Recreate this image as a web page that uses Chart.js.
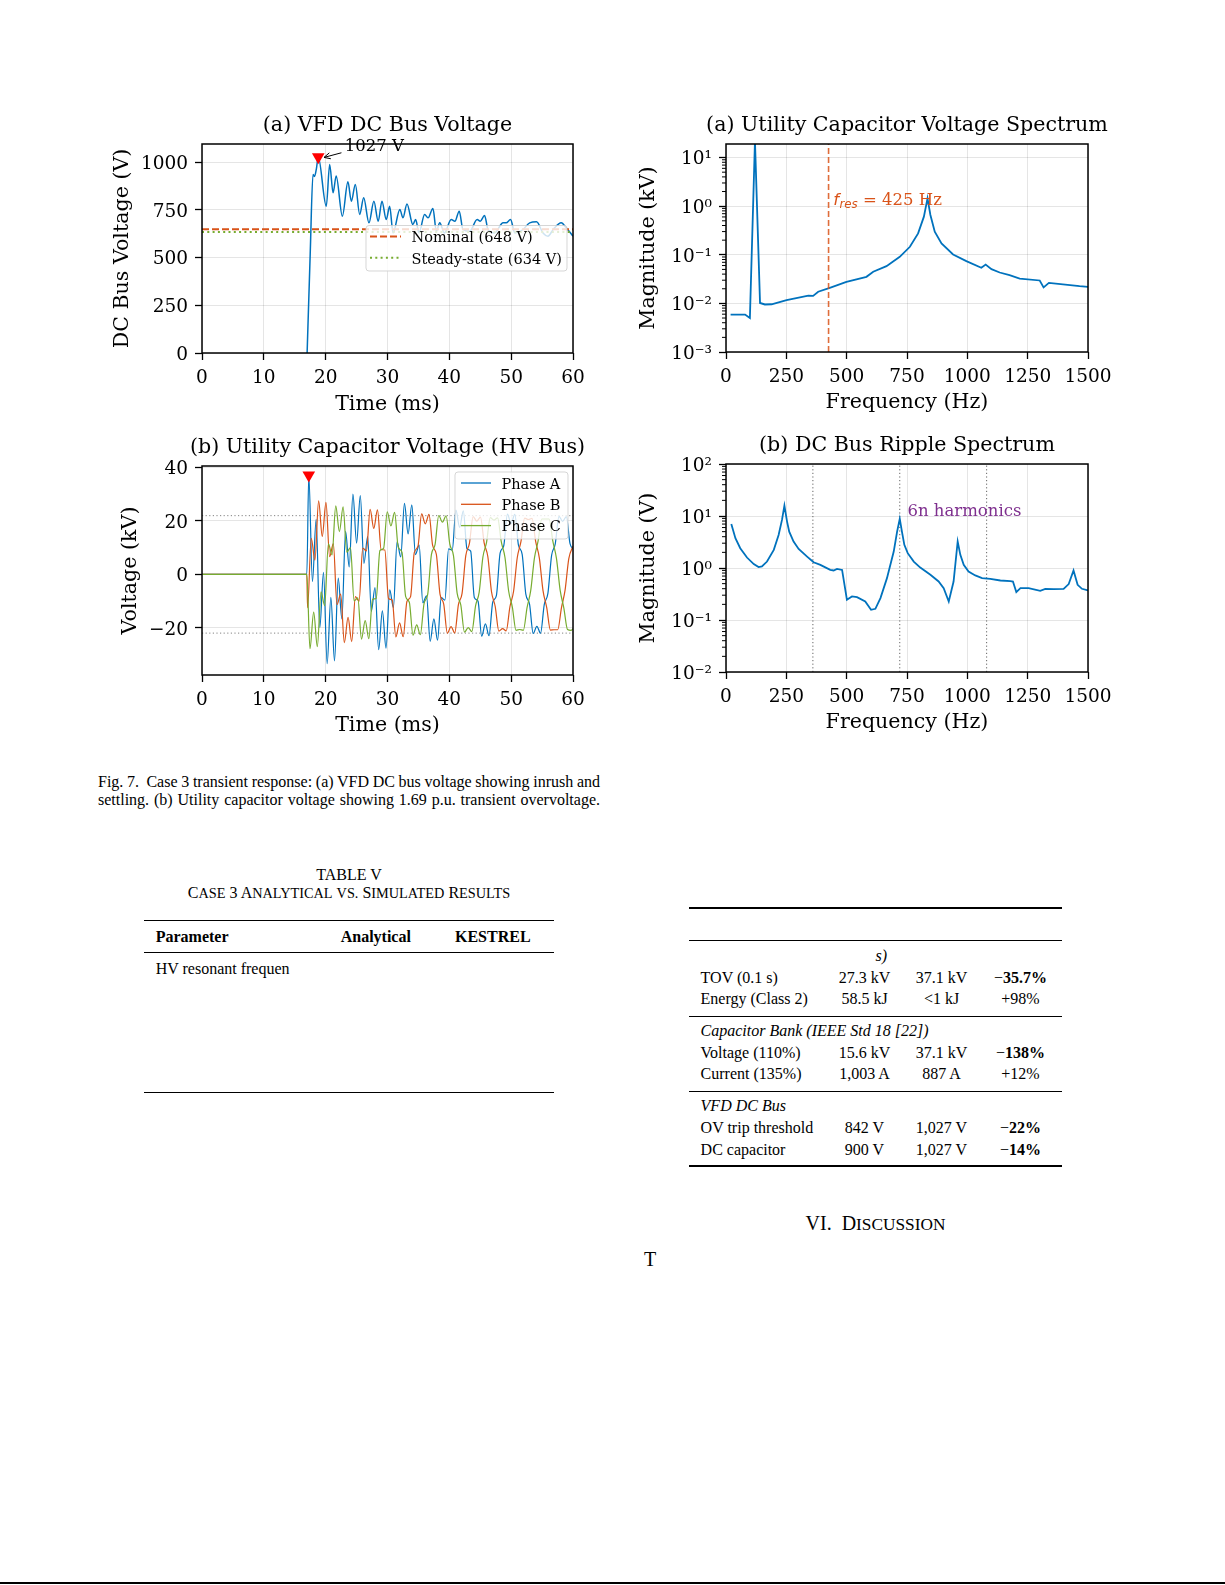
<!DOCTYPE html>
<html>
<head>
<meta charset="utf-8">
<script src="https://cdn.jsdelivr.net/npm/chart.js@4.4.1/dist/chart.umd.min.js"></script>
<style>
  body { margin: 0; width: 1225px; height: 1585px; background: #fff; position: relative; overflow: hidden; font-family: 'Liberation Serif', serif; color: #000; }
  canvas { position: absolute; }
  .txt { position: absolute; white-space: nowrap; }
  .fitline { display: inline-block; }
  .rule { position: absolute; background: #000; }
</style>
</head>
<body>
<canvas id="dcBus" width="500" height="320" style="left:100px;top:100px"></canvas>
<canvas id="capSpec" width="510" height="320" style="left:610px;top:100px"></canvas>
<canvas id="hvBus" width="500" height="320" style="left:100px;top:420px"></canvas>
<canvas id="ripSpec" width="510" height="320" style="left:610px;top:420px"></canvas>

<script>
// ---- (a) VFD DC bus voltage
const dcTime = [17.0, 17.5, 17.95, 18.2, 18.5, 18.8, 20.1, 20.65, 21.2, 21.7, 22.7, 23.6, 24.15, 24.8, 25.5, 26.15, 27.0, 27.8, 28.5, 29.1, 29.8, 30.35, 30.9, 32.0, 32.5, 33.15, 34.1, 34.55, 35.1, 36.0, 36.55, 37.35, 37.9, 38.45, 39.2, 40.3, 40.9, 41.6, 42.2, 43.3, 44.5, 45.0, 45.7, 46.25, 47.3, 48.7, 49.2, 49.9, 50.6, 51.9, 53.0, 54.1, 55.15, 55.95, 56.8, 58.1, 58.9, 60.0];
const dcVolt = [0, 520, 935, 925, 965, 1027, 769, 988, 839, 927, 717, 897, 795, 883, 726, 813, 682, 795, 690, 795, 699, 769, 629, 752, 708, 781, 673, 699, 629, 726, 708, 757, 638, 682, 629, 699, 690, 743, 647, 638, 699, 690, 720, 647, 629, 682, 682, 699, 629, 647, 682, 687, 629, 612, 647, 682, 656, 612];
const dcPeak = [18.8, 1027];
const nominalV = 648;
const steadyV = 634;
const timeTicks = [0, 10, 20, 30, 40, 50, 60];
const dcTicks = [0, 250, 500, 750, 1000];

// ---- (b) utility capacitor voltage, three phases (kV)
const phaseNames = ['Phase A', 'Phase B', 'Phase C'];
const phaseATime = [0, 16.95, 17.27, 17.86, 18.46, 19.05, 19.65, 20.24, 20.84, 21.43, 22.03, 22.62, 23.22, 23.81, 24.41, 25.0, 25.6, 26.19, 26.79, 27.38, 27.98, 28.57, 29.17, 29.76, 30.36, 30.95, 31.55, 32.14, 32.74, 33.33, 33.93, 34.52, 35.12, 35.71, 36.31, 36.9, 37.5, 38.09, 38.69, 39.28, 39.88, 40.47, 41.07, 41.66, 42.26, 42.85, 43.45, 44.04, 44.64, 45.23, 45.83, 46.42, 47.02, 47.61, 48.21, 48.8, 49.4, 49.99, 50.59, 51.18, 51.78, 52.37, 52.97, 53.56, 54.16, 54.75, 55.35, 55.94, 56.54, 57.13, 57.73, 58.32, 58.92, 59.51, 60.0];
const phaseAVolt = [0, 0, 37.1, -2.7, 20.6, -19.9, 0.8, -33.4, -8.6, -32.3, -1.4, -16.6, 16.1, 2.8, 30.0, 11.7, 29.4, 4.1, 14.1, -13.8, -4.9, -28.1, -13.6, -27.6, -5.8, -12.4, 12.2, 6.5, 26.5, 15.1, 26.0, 7.4, 10.9, -10.6, -8.0, -25.0, -16.6, -24.6, -8.7, -9.6, 9.5, 9.1, 24.0, 17.6, 23.7, 9.6, 8.7, -8.6, -10.0, -23.1, -18.5, -22.9, -10.4, -7.9, 7.9, 10.7, 22.5, 19.0, 22.4, 10.9, 7.5, -7.4, -11.1, -22.1, -19.4, -22.0, -11.3, -7.1, 7.1, 11.4, 21.7, 19.8, 21.6, 11.6, 9.5];
const phaseBTime = [0, 16.95, 17.07, 17.67, 18.26, 18.86, 19.45, 20.05, 20.64, 21.24, 21.83, 22.43, 23.02, 23.62, 24.21, 24.81, 25.4, 26.0, 26.59, 27.19, 27.78, 28.38, 28.97, 29.57, 30.16, 30.76, 31.35, 31.95, 32.54, 33.14, 33.73, 34.33, 34.92, 35.52, 36.11, 36.71, 37.3, 37.9, 38.49, 39.09, 39.68, 40.28, 40.87, 41.47, 42.06, 42.66, 43.25, 43.85, 44.44, 45.04, 45.63, 46.23, 46.82, 47.42, 48.01, 48.61, 49.2, 49.8, 50.39, 50.99, 51.58, 52.18, 52.77, 53.37, 53.96, 54.56, 55.15, 55.75, 56.34, 56.94, 57.53, 58.13, 58.72, 59.32, 60.0];
const phaseBVolt = [0, 0, -12.5, 13.5, 5.3, 27.5, 14.2, 26.9, 6.6, 11.5, -11.3, -7.4, -25.5, -16.1, -25.1, -8.3, -10.0, 9.8, 8.8, 24.3, 17.2, 24.1, 9.3, 9.1, -9.0, -9.6, -23.4, -18.1, -23.3, -10.1, -8.3, 8.1, 10.4, 22.6, 18.9, 22.4, 10.8, 7.5, -7.4, -11.1, -22.0, -19.5, -21.9, -11.3, -7.1, 7.0, 11.6, 21.6, 19.9, 21.4, 11.8, 6.6, -6.5, -12.0, -21.2, -20.3, -21.1, -12.1, -6.3, 6.3, 12.2, 21.0, 20.5, 20.9, 12.3, 6.1, -6.1, -12.4, -20.8, -20.7, -20.7, -12.5, -5.9, 5.9, 10.5];
const phaseCTime = [0, 16.95, 17.46, 18.06, 18.65, 19.25, 19.84, 20.44, 21.03, 21.63, 22.22, 22.82, 23.41, 24.01, 24.6, 25.2, 25.79, 26.39, 26.98, 27.58, 28.17, 28.77, 29.36, 29.96, 30.55, 31.15, 31.74, 32.34, 32.93, 33.53, 34.12, 34.72, 35.31, 35.91, 36.5, 37.1, 37.69, 38.29, 38.88, 39.48, 40.07, 40.67, 41.26, 41.86, 42.45, 43.05, 43.64, 44.24, 44.83, 45.43, 46.02, 46.62, 47.21, 47.81, 48.4, 49.0, 49.59, 50.19, 50.78, 51.38, 51.97, 52.57, 53.16, 53.76, 54.35, 54.95, 55.54, 56.14, 56.73, 57.33, 57.92, 58.52, 59.11, 59.71, 60.0];
const phaseCVolt = [0, 0, -27.8, -14.1, -27.0, -6.5, -11.7, 11.4, 7.3, 25.6, 16.0, 25.2, 8.3, 10.0, -9.9, -8.8, -24.2, -17.3, -24.0, -9.3, -9.0, 8.9, 9.7, 23.4, 18.1, 23.2, 10.1, 8.3, -8.2, -10.4, -22.7, -18.9, -22.5, -10.9, -7.5, 7.4, 11.1, 22.0, 19.5, 21.9, 11.4, 7.0, -7.0, -11.5, -21.6, -19.9, -21.4, -11.8, -6.6, 6.5, 12.0, 21.2, 20.3, 21.1, 12.2, 6.3, -6.2, -12.2, -20.9, -20.6, -20.9, -12.4, -6.1, 6.1, 12.4, 20.7, 20.7, 20.7, 12.5, 5.9, -5.9, -12.6, -20.6, -20.9, -20.3];
const puLevel = 21.95;
const hvPeak = [17.27, 37.1];
const hvTicks = [-20, 0, 20, 40];
const hvTickLabels = ['\u221220', '0', '20', '40'];

// ---- (a) utility capacitor voltage spectrum (kV)
const capFreq = [19, 79, 99, 120, 141, 161, 189, 251, 341, 361, 382, 430, 499, 582, 610, 665, 720, 762, 796, 820, 835, 847, 865, 893, 941, 996, 1058, 1076, 1100, 1134, 1175, 1217, 1300, 1316, 1338, 1465, 1500];
const capMag = [0.0059, 0.0059, 0.0050, 22, 0.0102, 0.0095, 0.0096, 0.0117, 0.0145, 0.0143, 0.0174, 0.0209, 0.0277, 0.0352, 0.0447, 0.0583, 0.091, 0.146, 0.275, 0.608, 1.45, 0.66, 0.298, 0.171, 0.1016, 0.074, 0.054, 0.063, 0.0506, 0.0432, 0.038, 0.0324, 0.0296, 0.0214, 0.0265, 0.0226, 0.0219];
const fRes = 425;
const freqTicks = [0, 250, 500, 750, 1000, 1250, 1500];
const capTicks = [1e-3, 1e-2, 1e-1, 1, 10];
const capTickLabels = ['10\u207B\u00B3', '10\u207B\u00B2', '10\u207B\u00B9', '10\u2070', '10\u00B9'];

// ---- (b) DC bus ripple spectrum (V)
const rippleFreq = [22, 39, 59, 87, 115, 135, 149, 170, 198, 218, 232, 242, 253, 262, 280, 301, 336, 363, 391, 432, 446, 460, 481, 501, 522, 543, 577, 601, 619, 640, 667, 695, 709, 720, 729, 739, 753, 778, 805, 847, 881, 902, 923, 943, 960, 971, 985, 1005, 1033, 1061, 1095, 1137, 1178, 1189, 1203, 1220, 1254, 1302, 1323, 1358, 1399, 1420, 1440, 1457, 1475, 1500];
const rippleMag = [7.05, 3.74, 2.40, 1.59, 1.19, 1.04, 1.07, 1.33, 2.23, 4.33, 8.4, 15.8, 7.8, 5.0, 3.23, 2.33, 1.66, 1.29, 1.15, 0.92, 0.895, 0.963, 0.92, 0.245, 0.284, 0.275, 0.227, 0.157, 0.164, 0.264, 0.638, 2.07, 5.0, 8.8, 5.0, 2.79, 1.93, 1.33, 1.02, 0.74, 0.55, 0.41, 0.227, 0.55, 3.23, 1.79, 1.15, 0.857, 0.72, 0.638, 0.62, 0.575, 0.559, 0.55, 0.344, 0.41, 0.41, 0.365, 0.398, 0.393, 0.398, 0.49, 0.895, 0.475, 0.398, 0.37];
const harmonicLines = [360, 720, 1080];
const rippleTicks = [1e-2, 1e-1, 1, 10, 100];
const rippleTickLabels = ['10\u207B\u00B2', '10\u207B\u00B9', '10\u2070', '10\u00B9', '10\u00B2'];

const BLUE = '#0072BD', ORANGE = '#D95319', GREEN = '#77AC30', PURPLE = '#7E2F8E';
const GRID = 'rgba(0,0,0,0.10)';
const SERIF = "'DejaVu Serif', serif";
const TY = 2; // canvas 'middle' baseline sits a bit high for DejaVu

Chart.defaults.font.family = SERIF;
Chart.defaults.color = '#000';
Chart.defaults.elements.point.radius = 0;
Chart.defaults.elements.line.tension = 0;

const xy = (xs, ys) => xs.map((x, i) => ({ x, y: ys[i] }));

function xAxis(min, max, ticks, title, pb, h) {
  return {
    type: 'linear', min, max,
    afterBuildTicks: s => { s.ticks = ticks.map(v => ({ value: v })); },
    afterFit: s => { s.height = h; },
    ticks: { font: { size: 18.5 }, padding: 7, maxRotation: 0, autoSkip: false, callback: v => String(v) },
    grid: { color: GRID, tickColor: '#000', tickLength: 7, tickWidth: 1.3 },
    border: { display: false },
    title: { display: true, text: title, font: { size: 20.6 }, padding: { top: 0, bottom: pb } }
  };
}

function yAxis(type, min, max, ticks, labels, title, pt, w) {
  return {
    type, min, max,
    afterBuildTicks: s => { s.ticks = ticks.map(v => ({ value: v })); },
    afterFit: s => { s.width = w; },
    ticks: { font: { size: 18.5 }, padding: 7, labelOffset: TY, autoSkip: false, callback: (v, i) => labels[i] },
    grid: { color: GRID, tickColor: '#000', tickLength: 7, tickWidth: 1.3 },
    border: { display: false },
    title: { display: true, text: title, font: { size: 20.6 }, padding: { top: pt, bottom: 0 } }
  };
}

function marker(pt) {
  return { data: [{ x: pt[0], y: pt[1] }], pointStyle: 'triangle', rotation: 180, pointRadius: 7.3,
           backgroundColor: 'red', borderColor: 'red', borderWidth: 0, showLine: false, clip: false, order: 0 };
}

function vline(x, y0, y1, color, dash, width, order) {
  return { data: [{ x, y: y0 }, { x, y: y1 }], borderColor: color, borderDash: dash, borderWidth: width, order };
}
function hline(y, x0, x1, color, dash, width, order) {
  return { data: [{ x: x0, y }, { x: x1, y }], borderColor: color, borderDash: dash, borderWidth: width, order };
}

// frame, title, and chart-specific overlays
function deco(title, extra) {
  return {
    id: 'deco',
    afterDraw(chart) {
      const { ctx, chartArea: a } = chart;
      ctx.save();
      ctx.strokeStyle = '#000';
      ctx.lineWidth = 1.5;
      ctx.strokeRect(a.left, a.top, a.right - a.left, a.bottom - a.top);
      ctx.fillStyle = '#000';
      ctx.font = '20.6px ' + SERIF;
      ctx.textAlign = 'center';
      ctx.textBaseline = 'middle';
      ctx.fillText(title, (a.left + a.right) / 2, a.top - 20 + TY);
      ctx.restore();
      if (extra) extra(chart);
    }
  };
}

function minorTicks(chart) {
  const { ctx, scales: { y }, chartArea: a } = chart;
  ctx.save();
  ctx.strokeStyle = '#000';
  ctx.lineWidth = 1;
  for (let e = Math.floor(Math.log10(y.min)); e <= Math.ceil(Math.log10(y.max)); e++) {
    for (let k = 2; k < 10; k++) {
      const v = k * Math.pow(10, e);
      if (v <= y.min || v >= y.max) continue;
      const py = y.getPixelForValue(v);
      ctx.beginPath();
      ctx.moveTo(a.left - 4, py);
      ctx.lineTo(a.left, py);
      ctx.stroke();
    }
  }
  ctx.restore();
}

function legend(ctx, left, top, w, h, items, lx0, lx1, tx) {
  ctx.save();
  ctx.beginPath();
  ctx.roundRect(left, top, w, h, 3);
  ctx.fillStyle = 'rgba(255,255,255,0.8)';
  ctx.fill();
  ctx.strokeStyle = 'rgba(204,204,204,0.8)';
  ctx.lineWidth = 1;
  ctx.stroke();
  ctx.font = '14.5px ' + SERIF;
  ctx.textBaseline = 'middle';
  ctx.textAlign = 'left';
  items.forEach(it => {
    const cy = top + it.dy;
    ctx.beginPath();
    ctx.setLineDash(it.dash || []);
    ctx.strokeStyle = it.color;
    ctx.lineWidth = it.width;
    ctx.moveTo(left + lx0, cy);
    ctx.lineTo(left + lx1, cy);
    ctx.stroke();
    ctx.setLineDash([]);
    ctx.fillStyle = '#000';
    ctx.fillText(it.label, left + tx, cy + TY);
  });
  ctx.restore();
}

function dcExtras(chart) {
  const { ctx, scales: { x, y }, chartArea: a } = chart;
  // annotation arrow
  const hx = x.getPixelForValue(19.73), hy = y.getPixelForValue(1024.6);
  const sx = x.getPixelForValue(22.55), sy = y.getPixelForValue(1049);
  ctx.save();
  ctx.strokeStyle = '#000';
  ctx.lineWidth = 1;
  ctx.beginPath();
  ctx.moveTo(sx, sy);
  ctx.lineTo(hx, hy);
  const ang = Math.atan2(sy - hy, sx - hx);
  [0.45, -0.45].forEach(d => {
    ctx.moveTo(hx, hy);
    ctx.lineTo(hx + 7 * Math.cos(ang + d), hy + 7 * Math.sin(ang + d));
  });
  ctx.stroke();
  ctx.fillStyle = '#000';
  ctx.font = '16.5px ' + SERIF;
  ctx.textBaseline = 'middle';
  ctx.fillText(dcPeak[1] + ' V', x.getPixelForValue(23.1), y.getPixelForValue(1091) + TY);
  ctx.restore();
  legend(ctx, a.right - 207, a.top + 81.5, 201, 45.5, [
    { label: 'Nominal (' + nominalV + ' V)', color: ORANGE, dash: [7, 3], width: 2, dy: 11.1 },
    { label: 'Steady-state (' + steadyV + ' V)', color: GREEN, dash: [2, 3.3], width: 2, dy: 32.3 }
  ], 4, 35, 45.5);
}

function hvExtras(chart) {
  const { ctx, chartArea: a } = chart;
  const cols = [BLUE, ORANGE, GREEN];
  legend(ctx, a.right - 118, a.top + 6, 113, 67,
    phaseNames.map((n, i) => ({ label: n, color: cols[i], width: 1.3, dy: 11 + i * 21.3 })), 6, 36, 46.5);
}

function capExtras(chart) {
  minorTicks(chart);
  const { ctx, scales: { x, y } } = chart;
  let px = x.getPixelForValue(444);
  const py = y.getPixelForValue(1.46) + 3;
  ctx.save();
  ctx.fillStyle = ORANGE;
  ctx.textBaseline = 'middle';
  ctx.font = 'oblique 16.5px "DejaVu Sans"';
  ctx.fillText('f', px, py);
  px += ctx.measureText('f').width + 0.5;
  ctx.font = 'oblique 11.8px "DejaVu Sans"';
  ctx.fillText('res', px, py + 4);
  px += ctx.measureText('res').width;
  ctx.font = '16.5px ' + SERIF;
  ctx.fillText(' = ' + fRes + ' Hz', px, py);
  ctx.restore();
}

function ripExtras(chart) {
  minorTicks(chart);
  const { ctx, scales: { x, y } } = chart;
  ctx.save();
  ctx.fillStyle = PURPLE;
  ctx.font = '16.5px ' + SERIF;
  ctx.textBaseline = 'middle';
  ctx.fillText('6n harmonics', x.getPixelForValue(752), y.getPixelForValue(13.7) + 3);
  ctx.restore();
}

const common = { responsive: false, animation: false, events: [] };
const noPlugins = { legend: { display: false }, tooltip: { enabled: false }, title: { display: false } };

new Chart(document.getElementById('dcBus'), {
  type: 'line',
  data: { datasets: [
    { data: xy(dcTime, dcVolt), borderColor: BLUE, borderWidth: 1.5, cubicInterpolationMode: 'monotone', order: 2 },
    hline(nominalV, 0, 60, ORANGE, [7, 3], 2, 1),
    hline(steadyV, 0, 60, GREEN, [2, 3.3], 2, 1),
    marker(dcPeak)
  ] },
  options: { ...common,
    layout: { padding: { top: 44, right: 27, left: 0, bottom: 0 } },
    plugins: noPlugins,
    scales: {
      x: xAxis(0, 60, timeTicks, 'Time (ms)', 3, 67),
      y: yAxis('linear', 0, 1095, dcTicks, dcTicks.map(String), 'DC Bus Voltage (V)', 10.7, 102)
    }
  },
  plugins: [deco('(a) VFD DC Bus Voltage', dcExtras)]
});

new Chart(document.getElementById('capSpec'), {
  type: 'line',
  data: { datasets: [
    { data: xy(capFreq, capMag), borderColor: BLUE, borderWidth: 1.8, order: 1 },
    vline(fRes, 1e-3, 19, 'rgba(217,83,25,0.85)', [6, 3], 1.6, 0)
  ] },
  options: { ...common,
    layout: { padding: { top: 44, right: 32, left: 0, bottom: 0 } },
    plugins: noPlugins,
    scales: {
      x: xAxis(0, 1500, freqTicks, 'Frequency (Hz)', 5, 68),
      y: yAxis('logarithmic', 1e-3, 19, capTicks, capTickLabels, 'Magnitude (kV)', 26.7, 116)
    }
  },
  plugins: [deco('(a) Utility Capacitor Voltage Spectrum', capExtras)]
});

new Chart(document.getElementById('hvBus'), {
  type: 'line',
  data: { datasets: [
    { data: xy(phaseATime, phaseAVolt), borderColor: BLUE, borderWidth: 1.2, cubicInterpolationMode: 'monotone', order: 3 },
    { data: xy(phaseBTime, phaseBVolt), borderColor: ORANGE, borderWidth: 1.2, cubicInterpolationMode: 'monotone', order: 2 },
    { data: xy(phaseCTime, phaseCVolt), borderColor: GREEN, borderWidth: 1.2, cubicInterpolationMode: 'monotone', order: 1 },
    hline(puLevel, 0, 60, 'rgba(90,90,90,0.75)', [1.2, 2.4], 1, 4),
    hline(-puLevel, 0, 60, 'rgba(90,90,90,0.75)', [1.2, 2.4], 1, 4),
    marker(hvPeak)
  ] },
  options: { ...common,
    layout: { padding: { top: 46, right: 27, left: 0, bottom: 0 } },
    plugins: noPlugins,
    scales: {
      x: xAxis(0, 60, timeTicks, 'Time (ms)', 2, 65),
      y: yAxis('linear', -37.6, 40.5, hvTicks, hvTickLabels, 'Voltage (kV)', 18.3, 102)
    }
  },
  plugins: [deco('(b) Utility Capacitor Voltage (HV Bus)', hvExtras)]
});

new Chart(document.getElementById('ripSpec'), {
  type: 'line',
  data: { datasets: [
    { data: xy(rippleFreq, rippleMag), borderColor: BLUE, borderWidth: 1.8, order: 1 },
    ...harmonicLines.map(f => vline(f, 1e-2, 100, 'rgba(60,60,60,0.8)', [1.2, 2.4], 1, 2))
  ] },
  options: { ...common,
    layout: { padding: { top: 44, right: 32, left: 0, bottom: 0 } },
    plugins: noPlugins,
    scales: {
      x: xAxis(0, 1500, freqTicks, 'Frequency (Hz)', 5, 68),
      y: yAxis('logarithmic', 1e-2, 100, rippleTicks, rippleTickLabels, 'Magnitude (V)', 26.7, 116)
    }
  },
  plugins: [deco('(b) DC Bus Ripple Spectrum', ripExtras)]
});

// ---- page text
function put(html, x, cy, o = {}) {
  const d = document.createElement('div');
  const fs = o.size || 16;
  d.className = 'txt';
  d.style.fontSize = fs + 'px';
  d.style.lineHeight = Math.round(fs * 1.2) + 'px';
  d.style.top = (cy - fs * 0.62) + 'px';
  d.style.left = x + 'px';
  if (o.center) d.style.transform = 'translateX(-50%)';
  if (o.bold) d.style.fontWeight = 'bold';
  if (o.italic) d.style.fontStyle = 'italic';
  if (o.fit) {
    d.innerHTML = '<span class="fitline">' + html + '</span>';
    document.body.appendChild(d);
    const span = d.firstChild;
    const w = span.getBoundingClientRect().width;
    const n = (span.textContent.match(/[ \u00a0]/g) || []).length;
    if (n) span.style.wordSpacing = ((o.fit - w) / n) + 'px';
    return;
  }
  d.innerHTML = html;
  document.body.appendChild(d);
}
// TeX-like small caps: capitals and digits at full size, lowercase as smaller capitals
function smallCaps(text, small) {
  return text.replace(/[a-z.]+/g, m => '<span style="font-size:' + small + 'px">' + m.toUpperCase() + '</span>');
}
function rule(x, y, w, h) {
  const d = document.createElement('div');
  d.className = 'rule';
  Object.assign(d.style, { left: x + 'px', top: y + 'px', width: w + 'px', height: h + 'px' });
  document.body.appendChild(d);
}

put('Fig. 7.&nbsp; Case 3 transient response: (a) VFD DC bus voltage showing inrush and', 98, 781.5, { fit: 502 });
put('settling. (b) Utility capacitor voltage showing 1.69 p.u. transient overvoltage.', 98, 800, { fit: 502 });

put('TABLE V', 349, 874.5, { center: true });
put(smallCaps('Case 3 Analytical vs. Simulated Results', 14.3), 349, 892.7, { center: true });

rule(143.6, 919.5, 410.5, 1.3);
put('Parameter', 155.7, 937, { bold: true });
put('Analytical', 340.7, 937, { bold: true });
put('KESTREL', 455, 937, { bold: true });
rule(143.6, 952, 410.5, 0.9);
put('HV resonant frequen', 155.7, 968.5);
rule(143.6, 1091.5, 410.5, 1);

rule(688.5, 907, 373, 2);
rule(688.5, 940, 373, 1);
put('s)', 875.5, 956.4, { italic: true });
const rows = [
  [977.6, 'TOV (0.1 s)', '27.3 kV', '37.1 kV', '\u2212<b>35.7%</b>'],
  [999, 'Energy (Class 2)', '58.5 kJ', '&lt;1 kJ', '+98%'],
  [1052.5, 'Voltage (110%)', '15.6 kV', '37.1 kV', '\u2212<b>138%</b>'],
  [1073.7, 'Current (135%)', '1,003 A', '887 A', '+12%'],
  [1128, 'OV trip threshold', '842 V', '1,027 V', '\u2212<b>22%</b>'],
  [1149.5, 'DC capacitor', '900 V', '1,027 V', '\u2212<b>14%</b>']
];
rows.forEach(r => {
  put(r[1], 700.6, r[0]);
  put(r[2], 864.5, r[0], { center: true });
  put(r[3], 941.5, r[0], { center: true });
  put(r[4], 1020.5, r[0], { center: true });
});
rule(688.5, 1015.5, 373, 1);
put('Capacitor Bank (IEEE Std 18 [22])', 700.6, 1031, { italic: true });
rule(688.5, 1090.5, 373, 1);
put('VFD DC Bus', 700.6, 1106, { italic: true });
rule(688.5, 1164.5, 373, 2);

put('VI.&nbsp;&nbsp;' + smallCaps('Discussion', 17.3), 875.5, 1223, { center: true, size: 20 });
put('T', 644, 1259, { size: 20 });
rule(0, 1581.5, 1225, 2);
</script>
</body>
</html>
